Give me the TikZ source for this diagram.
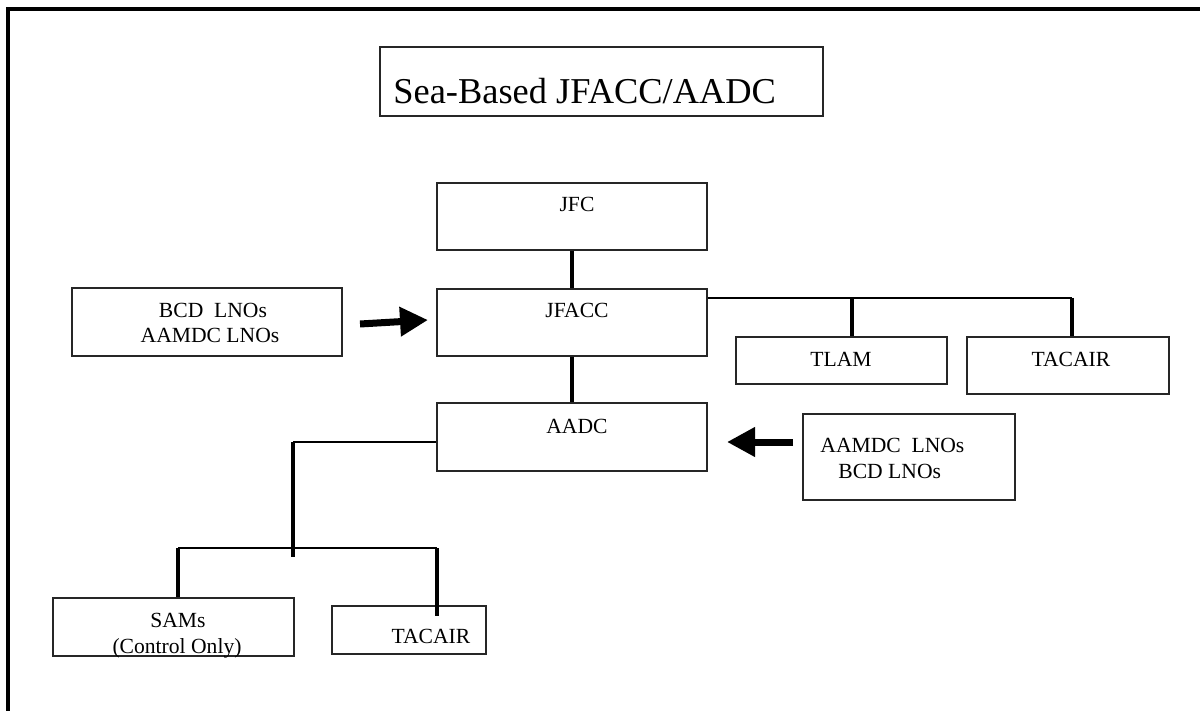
\documentclass[tikz,border=0pt]{standalone}
\usepackage{fontspec}
\setmainfont{Liberation Serif}
\usetikzlibrary{arrows.meta,fit}

\tikzset{
  px/.style={x=0.5pt,y=-0.5pt},
  box/.style={draw=black!85, line width=0.6pt, inner sep=0pt},
  lbl/.style={anchor=base, inner sep=0pt, font=\fontsize{10.8}{13}\selectfont},
  lblw/.style={lbl, anchor=base west},
  heavy/.style={line width=1.6pt},
  light/.style={line width=0.7pt},
  bigarrow/.style={line width=3.5pt, -{Triangle[length=14pt,width=14pt]}},
  frame/.style={line width=1.6pt}
}

\begin{document}
\begin{tikzpicture}[px]
\useasboundingbox (0,0) rectangle (1200,711);

% page frame (top and left edges)
\coordinate (fbl) at (8,711);
\coordinate (ftl) at (8,9);
\coordinate (ftr) at (1200,9);
\draw[frame] (fbl) -- (ftl) -- (ftr);

% title
\node[box, fit={(380,47) (823,116)}] (title) {};
\node[anchor=base west, inner sep=0pt, font=\fontsize{18.2}{22}\selectfont] (titletxt) at (393,104) {Sea-Based JFACC/AADC};

% command chain
\node[box, fit={(437,183) (707,250)}] (jfc) {};
\node[lbl] (jfct) at (577,212) {JFC};

\node[box, fit={(437,289) (707,356)}] (jfacc) {};
\node[lbl] (jfacct) at (577,318) {JFACC};

\node[box, fit={(437,403) (707,471)}] (aadc) {};
\node[lbl] (aadct) at (577,433) {AADC};

\draw[heavy] (jfc.south) -- (jfacc.north);
\draw[heavy] (jfacc.south) -- (aadc.north);

% JFACC subordinate elements
\node[box, fit={(736,337) (947,384)}] (tlam) {};
\node[lbl] (tlamt) at (841,366) {TLAM};

\node[box, fit={(967,337) (1169,394)}] (tacair) {};
\node[lbl] (tacairt) at (1071,366) {TACAIR};

\coordinate (busR) at (1072,298);
\coordinate (tlamj) at (852,298);
\draw[light] (jfacc.east |- busR) -- (busR);
\draw[heavy] (tlamj) -- (tlamj |- tlam.north);
\draw[heavy] (busR) -- (busR |- tacair.north);

% liaison officers feeding JFACC
\node[box, fit={(72,288) (342,356)}] (lnoL) {};
\node[lbl] (lnoL1) at (213,318) {BCD\ \ LNOs};
\node[lbl] (lnoL2) at (210,343) {AAMDC LNOs};
\coordinate (arrLt) at (360,324);
\coordinate (arrLh) at (428,320);
\draw[bigarrow] (arrLt) -- (arrLh);

% liaison officers feeding AADC
\node[box, fit={(803,414) (1015,500)}] (lnoR) {};
\node[lblw] (lnoR1) at (820,452) {AAMDC\ \ LNOs};
\node[lblw] (lnoR2) at (838,478) {BCD LNOs};
\coordinate (arrRt) at (793,442);
\coordinate (arrRh) at (727,442);
\draw[bigarrow] (arrRt) -- (arrRh);

% AADC subordinate elements
\node[box, fit={(53,598) (294,656)}] (sams) {};
\node[lbl] (samst1) at (178,627) {SAMs};
\node[lbl] (samst2) at (177,653) {(Control Only)};

\node[box, fit={(332,606) (486,654)}] (tacair2) {};
\node[lbl] (tacair2t) at (431,643) {TACAIR};

\coordinate (aL) at (293,442);
\coordinate (aLb) at (293,557);
\coordinate (bL) at (178,548);
\coordinate (bR) at (437,548);
\coordinate (bRe) at (437,616);
\draw[light] (aadc.west |- aL) -- (aL);
\draw[heavy] (aL) -- (aLb);
\draw[light] (bL) -- (bR);
\draw[heavy] (bL) -- (bL |- sams.north);
\draw[heavy] (bR) -- (bRe);
\end{tikzpicture}
\end{document}
